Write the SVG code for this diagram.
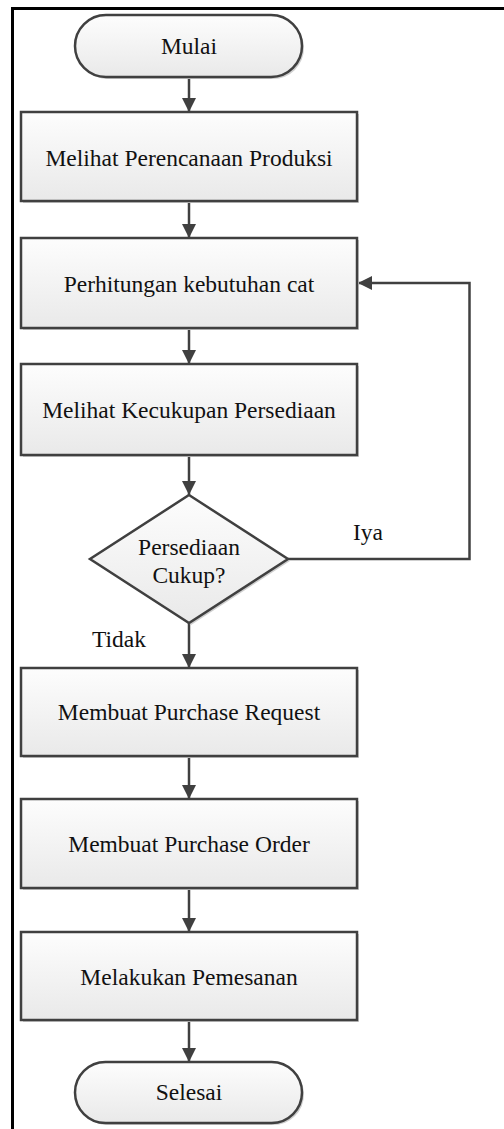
<svg xmlns="http://www.w3.org/2000/svg" width="504" height="1129" viewBox="0 0 504 1129">
<defs>
<linearGradient id="g" x1="0" y1="0" x2="0" y2="1">
<stop offset="0" stop-color="#fdfdfd"/>
<stop offset="1" stop-color="#e9e9e9"/>
</linearGradient>
<marker id="ah" markerUnits="userSpaceOnUse" markerWidth="15" markerHeight="15" refX="14" refY="7" orient="auto">
<path d="M0,0 L14,7 L0,14 z" fill="#404040"/>
</marker>
</defs>
<style>
.shape{fill:url(#g);stroke:#404040;stroke-width:2.5}
.shadow{fill:#cfcfcf;stroke:none}
text{font-family:'Liberation Serif','Times New Roman','DejaVu Serif',serif;font-size:23.5px;fill:#111}
.t{text-anchor:middle}
.c{fill:none;stroke:#404040;stroke-width:2.5;marker-end:url(#ah)}
.frame{stroke:#000;stroke-width:3;fill:none}
</style>
<rect width="504" height="1129" fill="#fff"/>
<path class="frame" d="M12.5,1129 L12.5,8.5 L504,8.5"/>
<g id="connectors">
<line class="c" x1="189" y1="77" x2="189" y2="112"/>
<line class="c" x1="189" y1="201" x2="189" y2="238"/>
<line class="c" x1="189" y1="328" x2="189" y2="364"/>
<line class="c" x1="189" y1="455" x2="189" y2="495"/>
<line class="c" x1="189" y1="623" x2="189" y2="668"/>
<line class="c" x1="189" y1="756" x2="189" y2="799"/>
<line class="c" x1="189" y1="888" x2="189" y2="932"/>
<line class="c" x1="189" y1="1020" x2="189" y2="1062"/>
<path class="c" d="M288,559 L469.5,559 L469.5,283 L358,283"/>
<text x="353" y="540" font-family="Liberation Serif, serif">Iya</text>
<text x="92" y="647" font-family="Liberation Serif, serif">Tidak</text>
</g>
<g id="mulai">
<rect class="shadow" x="77" y="17" width="227" height="62" rx="31"/>
<rect class="shape" x="75" y="15" width="227" height="62" rx="31"/>
<text class="t" x="189" y="54" font-family="Liberation Serif, serif">Mulai</text>
</g>
<g id="n1">
<rect class="shadow" x="23" y="114" width="336" height="89"/>
<rect class="shape" x="21" y="112" width="336" height="89"/>
<text class="t" x="189" y="165.5" font-family="Liberation Serif, serif">Melihat Perencanaan Produksi</text>
</g>
<g id="n2">
<rect class="shadow" x="23" y="240" width="336" height="90"/>
<rect class="shape" x="21" y="238" width="336" height="90"/>
<text class="t" x="189" y="291.5" font-family="Liberation Serif, serif">Perhitungan kebutuhan cat</text>
</g>
<g id="n3">
<rect class="shadow" x="23" y="366" width="336" height="91"/>
<rect class="shape" x="21" y="364" width="336" height="91"/>
<text class="t" x="189" y="418" font-family="Liberation Serif, serif">Melihat Kecukupan Persediaan</text>
</g>
<g id="d1">
<polygon class="shadow" points="191,497 290,561 191,625 92,561"/>
<polygon class="shape" points="189,495 288,559 189,623 90,559"/>
<text class="t" x="189" y="555" font-family="Liberation Serif, serif">Persediaan</text>
<text class="t" x="189" y="583" font-family="Liberation Serif, serif">Cukup?</text>
</g>
<g id="n4">
<rect class="shadow" x="23" y="670" width="336" height="88"/>
<rect class="shape" x="21" y="668" width="336" height="88"/>
<text class="t" x="189" y="720" font-family="Liberation Serif, serif">Membuat Purchase Request</text>
</g>
<g id="n5">
<rect class="shadow" x="23" y="801" width="336" height="89"/>
<rect class="shape" x="21" y="799" width="336" height="89"/>
<text class="t" x="189" y="852" font-family="Liberation Serif, serif">Membuat Purchase Order</text>
</g>
<g id="n6">
<rect class="shadow" x="23" y="934" width="336" height="88"/>
<rect class="shape" x="21" y="932" width="336" height="88"/>
<text class="t" x="189" y="984.5" font-family="Liberation Serif, serif">Melakukan Pemesanan</text>
</g>
<g id="selesai">
<rect class="shadow" x="77" y="1064" width="227" height="61" rx="30.5"/>
<rect class="shape" x="75" y="1062" width="227" height="61" rx="30.5"/>
<text class="t" x="189" y="1100" font-family="Liberation Serif, serif">Selesai</text>
</g>
</svg>
